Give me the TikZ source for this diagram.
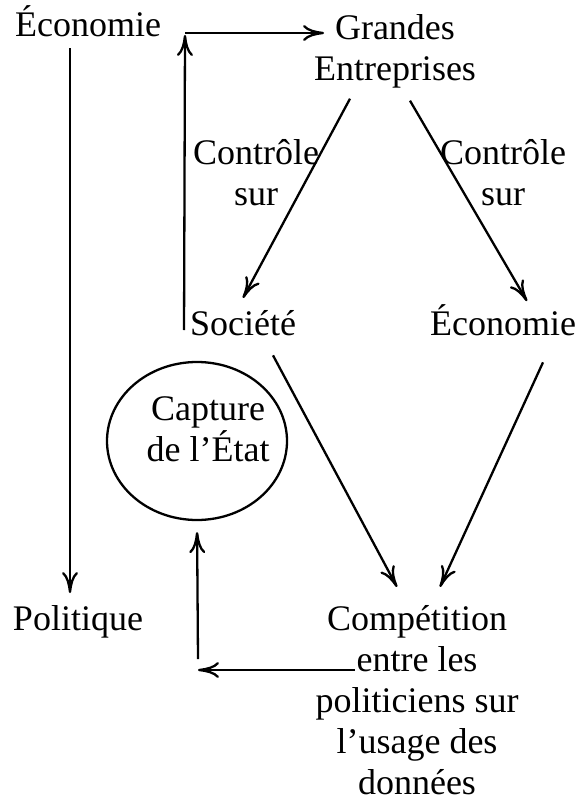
\documentclass[tikz,border=0pt]{standalone}
\usepackage{fontspec}
\setmainfont{Liberation Serif}
\usetikzlibrary{arrows.meta,shapes.geometric,calc}
\tikzset{
  lbl/.style={inner sep=0pt, outer sep=0pt, anchor=base, align=center,
    font=\fontsize{36}{41}\selectfont},
  arr/.style={line width=2.3pt, -{Computer Modern Rightarrow[length=21pt,width=16pt,line width=2.3pt]}},
  ln/.style={line width=2.3pt}
}
\begin{document}
\begin{tikzpicture}[x=1pt,y=-1pt]
\useasboundingbox[fill=white] (0,0) rectangle (583,802);
% nodes (base anchor = baseline of the last line)
\node[lbl] (econ1) at (88,37) {Économie};
\node[lbl] (grandes) at (395,81) {Grandes\\Entreprises};
\node[lbl] (ctrlL) at (256,206) {Contrôle\\sur};
\node[lbl] (ctrlR) at (503,206) {Contrôle\\sur};
\node[lbl] (soc) at (243,335) {Société};
\node[lbl] (econ2) at (503,335) {Économie};
\node[draw, ln, ellipse, minimum width=180pt, minimum height=158pt, inner sep=0pt] (etat) at (197,441) {};
\node[lbl] (etattxt) at (208,461) {Capture\\de l’État};
\node[lbl] (pol) at (78,630) {Politique};
\node[lbl] (comp) at (417,794) {Compétition\\entre les\\politiciens sur\\l’usage des\\données};
\coordinate (corner) at (185,33);
\coordinate (corner2) at (198,670);
% connectors
\draw[arr] ($(econ1.south)+(-18,11)$) -- ($(pol.north)+(-8,-12)$);
\draw[arr] ($(soc.base west)+(-6,-5)$) -- ($(corner)+(0,2)$);
\draw[arr] (corner) -- ($(corner -| grandes.west)+(10,0)$);
\draw[arr] ($(grandes.south)+(-45,10)$) -- ($(soc.north)+(0,-12)$);
\draw[arr] ($(grandes.south)+(15,12)$) -- ($(econ2.north)+(24,-3)$);
\draw[arr] ($(soc.south)+(30,20)$) -- ($(comp.north)+(-20,-18)$);
\draw[arr] ($(econ2.south)+(40,27)$) -- ($(comp.north)+(23,-18)$);
\draw[arr] ($(corner2 -| comp.west)+(39,0)$) -- (corner2);
\draw[arr, shorten >=11pt] ($(corner2)+(0,-11)$) -- (etat.south);
\end{tikzpicture}
\end{document}
